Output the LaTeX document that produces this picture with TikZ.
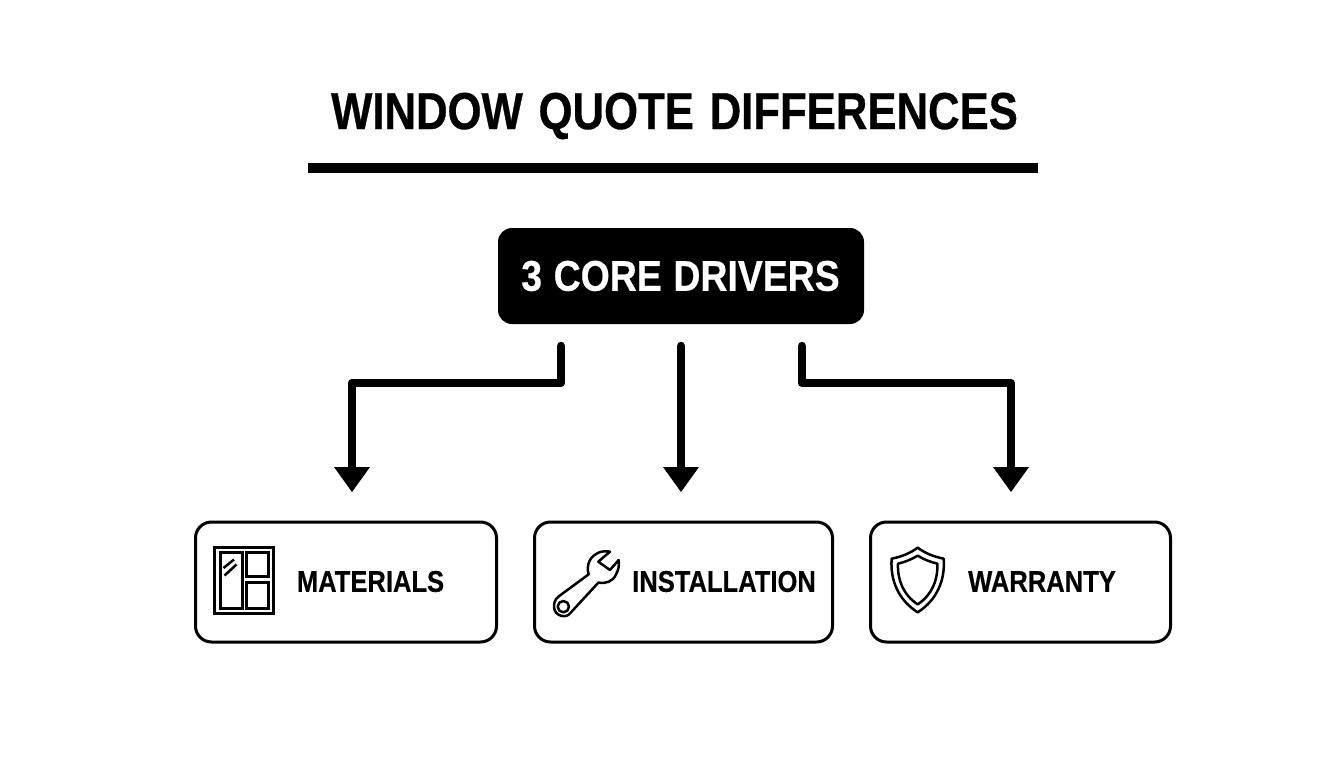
\documentclass[tikz,border=0pt]{standalone}
\usepackage{fontspec}
\newfontfamily\titlefont{Liberation Sans Bold}[FakeStretch=0.84,FakeBold=0.6,WordSpace=1.3]
\newfontfamily\corefont{Liberation Sans Bold}[FakeStretch=0.87,FakeBold=0.4,WordSpace=1.12]
\newfontfamily\cardfont{Liberation Sans Bold}[FakeStretch=0.852,FakeBold=0.4]
\usetikzlibrary{arrows.meta}
\tikzset{
  card/.style={draw=black,line width=3pt,rounded corners=16pt,fill=white,inner sep=0pt,minimum height=120pt},
  cardtext/.style={inner sep=0pt,font=\cardfont\fontsize{30}{32}\selectfont,text=black,anchor=center},
  corebox/.style={fill=black,rounded corners=14pt,inner sep=0pt,minimum width=366pt,minimum height=96pt,text=white},
  coretext/.style={inner sep=0pt,font=\corefont\fontsize{43}{46}\selectfont,text=white},
  titletext/.style={inner sep=0pt,font=\titlefont\fontsize{52}{56}\selectfont,text=black},
  conn/.style={line width=8.5pt,line cap=round,line join=round,draw=black},
  flow/.style={conn,-{Triangle[length=25pt,width=36pt,line width=0pt,sep=0pt]}},
  icon/.style={draw=black,line width=3pt,line join=miter,fill=none},
  iconfine/.style={draw=black,line width=2.5pt,line join=round,fill=none}
}
\begin{document}
\begin{tikzpicture}[x=1pt,y=-1pt]
\useasboundingbox (0,0) rectangle (1344,768);
\fill[white] (0,0) rectangle (1344,768);
\node[titletext] (title) at (674.5,116) {WINDOW QUOTE DIFFERENCES};
\fill[black] (308,163) rectangle (1038,173);
\node[corebox] (core) at (681,276) {};
\node[coretext] (coret) at (680.5,276) {3 CORE DRIVERS};
\node[card,minimum width=301pt] (mat) at (346,582) {};
\node[card,minimum width=298pt] (ins) at (683.5,582) {};
\node[card,minimum width=300pt] (war) at (1020.5,582) {};
\node[cardtext] (matt) at (370.5,581.5) {MATERIALS};
\node[cardtext] (inst) at (724,581.5) {INSTALLATION};
\node[cardtext] (wart) at (1042,581.5) {WARRANTY};
\coordinate (sl) at (561,346);
\coordinate (sm) at (681,346);
\coordinate (sr) at (802,346);
\coordinate (el) at (352,492);
\coordinate (em) at (681,492);
\coordinate (er) at (1011,492);
\draw[flow] (sl) -- (561,383) -- (352,383) -- (el);
\draw[flow] (sm) -- (em);
\draw[flow] (sr) -- (802,383) -- (1011,383) -- (er);
% window icon
\draw[icon] (214.5,547) rectangle (273,613.5);
\draw[icon] (220,552.5) rectangle (242,608);
\draw[icon] (246,552.5) rectangle (268,576.5);
\draw[icon] (246,582) rectangle (268,608);
\draw[iconfine] (224.5,575.5) -- (236.5,564.5);
\draw[iconfine] (223.5,568) -- (234,559.5);
% wrench icon
\begin{scope}[xshift=530pt,yshift=-515pt,x=0.3333pt,y=-0.3333pt]
\draw[iconfine] (122,293) -- (205,203) .. controls (225,207) and (250,200) .. (258,178)
  .. controls (266,165) and (268,150) .. (266,135) -- (240,165) -- (205,140) -- (240,110)
  .. controls (215,105) and (192,115) .. (180,135) .. controls (172,150) and (172,165) .. (176,178)
  -- (85,245) .. controls (65,262) and (68,295) .. (92,302) .. controls (105,306) and (116,302) .. (122,293) -- cycle;
\draw[iconfine] (100,275) circle (17);
\end{scope}
% shield icon
\begin{scope}[xshift=860pt,yshift=-515pt,x=0.3333pt,y=-0.3333pt]
\draw[iconfine] (173,98) .. controls (150,115) and (125,125) .. (95,131)
  .. controls (90,195) and (115,255) .. (173,292)
  .. controls (231,255) and (256,195) .. (251,131)
  .. controls (221,125) and (196,115) .. (173,98) -- cycle;
\draw[iconfine] (173,122) .. controls (155,133) and (135,141) .. (114,146)
  .. controls (112,195) and (130,240) .. (173,268)
  .. controls (216,240) and (234,195) .. (232,146)
  .. controls (211,141) and (191,133) .. (173,122) -- cycle;
\end{scope}
\end{tikzpicture}
\end{document}
